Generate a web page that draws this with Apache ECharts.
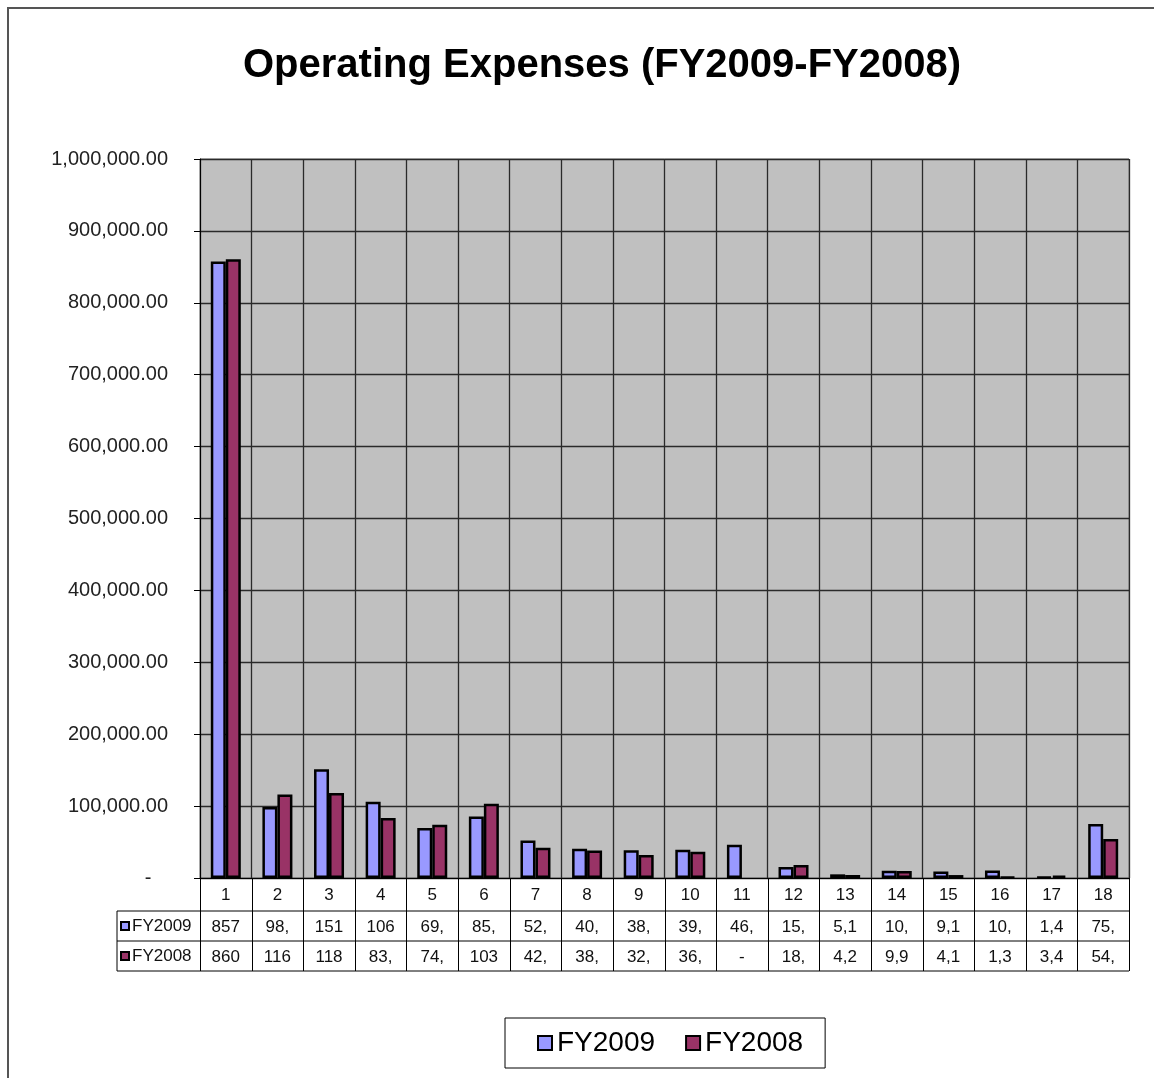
<!DOCTYPE html>
<html>
<head>
<meta charset="utf-8">
<title>Operating Expenses</title>
<script src="https://cdn.jsdelivr.net/npm/echarts@6/dist/echarts.min.js"></script>
<style>
  html, body { margin: 0; padding: 0; background: #fff; }
  #main { width: 1154px; height: 1078px; }
</style>
</head>
<body>
<div id="main"></div>
<script>
// categories 1..18
var categories = ['1', '2', '3', '4', '5', '6', '7', '8', '9', '10', '11', '12', '13', '14', '15', '16', '17', '18'];
var seriesNames = ['FY2009', 'FY2008'];
var fy2009 = [857300, 98600, 151400, 106200, 69500, 85400, 52300, 40600, 38500, 39400, 46200, 15300, 5100, 10200, 9100, 10300, 1400, 75200];
var fy2008 = [860400, 116300, 118200, 83400, 74100, 103200, 42100, 38200, 32100, 36400, 0, 18200, 4200, 9900, 4100, 1300, 3400, 54300];
var seriesColors = ['#9999ff', '#993366'];

var FONT = 'Liberation Sans, Arial, sans-serif';
var gridLeft = 200, gridTop = 159, gridWidth = 929, gridHeight = 719;
var rowH = [33, 30, 30]; // header row, FY2009 row, FY2008 row
var labelCellLeft = 117;

// table cells only have room for 3 characters (like excel truncation)
function cellText(v) {
    if (!v) return '-';
    return v.toLocaleString('en-US', { minimumFractionDigits: 2, maximumFractionDigits: 2 }).slice(0, 3);
}
// empty values draw no bar
function barData(arr) {
    return arr.map(function (v) { return v ? v : '-'; });
}

var chart = echarts.init(document.getElementById('main'), null, { renderer: 'canvas' });

var option = {
    animation: false,
    backgroundColor: '#ffffff',
    title: {
        text: 'Operating Expenses (FY2009-FY2008)',
        left: 238,
        top: 41,
        textStyle: { fontFamily: FONT, fontSize: 40, fontWeight: 'bold', color: '#000' }
    },
    legend: {
        data: seriesNames,
        left: 505,
        top: 1018,
        padding: [11, 22, 11, 32],
        borderColor: '#000',
        borderWidth: 1,
        itemWidth: 14,
        itemHeight: 14,
        itemGap: 30,
        icon: 'rect',
        textStyle: { fontFamily: FONT, fontSize: 28, color: '#000' }
    },
    grid: {
        left: gridLeft,
        top: gridTop,
        width: gridWidth,
        height: gridHeight,
        show: true,
        backgroundColor: '#c0c0c0',
        borderColor: '#808080',
        borderWidth: 1
    },
    xAxis: {
        type: 'category',
        data: categories,
        boundaryGap: true,
        axisLine: { lineStyle: { color: '#000', width: 1 } },
        axisTick: { show: false },
        axisLabel: { show: false },
        splitLine: { show: true, interval: 0, lineStyle: { color: '#2a2a2a', width: 1.3 } }
    },
    yAxis: {
        type: 'value',
        min: 0,
        max: 1000000,
        interval: 100000,
        axisLine: { show: true, lineStyle: { color: '#000', width: 1 } },
        axisTick: { show: true, length: 6, lineStyle: { color: '#000' } },
        axisLabel: {
            margin: 32,
            fontFamily: FONT,
            fontSize: 20,
            color: '#222',
            formatter: function (v) {
                if (v === 0) return '-   ';
                return v.toLocaleString('en-US', { minimumFractionDigits: 2, maximumFractionDigits: 2 });
            }
        },
        splitLine: { show: true, lineStyle: { color: '#2a2a2a', width: 1.3 } }
    },
    series: [
        {
            name: seriesNames[0],
            type: 'bar',
            data: barData(fy2009),
            barWidth: 15,
            barGap: '0%',
            itemStyle: { color: seriesColors[0], borderColor: '#000', borderWidth: 2.5 }
        },
        {
            name: seriesNames[1],
            type: 'bar',
            data: barData(fy2008),
            barWidth: 15,
            barGap: '0%',
            itemStyle: { color: seriesColors[1], borderColor: '#000', borderWidth: 2.5 }
        }
    ]
};

chart.setOption(option);

// data table under the plot, aligned with the category axis
function buildTable() {
    var els = [];
    var n = categories.length;
    var cellW = gridWidth / n;
    var y0 = gridTop + gridHeight;
    var y1 = y0 + rowH[0];
    var y2 = y1 + rowH[1];
    var y3 = y2 + rowH[2];
    var right = gridLeft + gridWidth;
    var lineStyle = { stroke: '#000', lineWidth: 1 };
    var font = '17px ' + FONT;

    // outer frame of chart area
    els.push({ type: 'rect', shape: { x: 8, y: 8, width: 1160, height: 1090 }, style: { fill: null, stroke: '#555', lineWidth: 2 }, silent: true });

    // horizontal lines
    els.push({ type: 'line', shape: { x1: labelCellLeft, y1: y1, x2: right, y2: y1 }, style: lineStyle });
    els.push({ type: 'line', shape: { x1: labelCellLeft, y1: y2, x2: right, y2: y2 }, style: lineStyle });
    els.push({ type: 'line', shape: { x1: labelCellLeft, y1: y3, x2: right, y2: y3 }, style: lineStyle });
    // vertical lines
    els.push({ type: 'line', shape: { x1: labelCellLeft, y1: y1, x2: labelCellLeft, y2: y3 }, style: lineStyle });
    for (var i = 0; i <= n; i++) {
        var x = Math.round(gridLeft + i * cellW) + 0.5;
        els.push({ type: 'line', shape: { x1: x, y1: y0, x2: x, y2: y3 }, style: lineStyle });
    }

    var rows = [fy2009, fy2008];
    for (var c = 0; c < n; c++) {
        var cx = chart.convertToPixel({ xAxisIndex: 0 }, categories[c]);
        els.push({ type: 'text', x: cx, y: (y0 + y1) / 2 + 1, style: { text: categories[c], align: 'center', verticalAlign: 'middle', font: font, fill: '#111' } });
        for (var r = 0; r < rows.length; r++) {
            var yy = r === 0 ? (y1 + y2) / 2 + 1 : (y2 + y3) / 2 + 1;
            els.push({ type: 'text', x: cx, y: yy, style: { text: cellText(rows[r][c]), align: 'center', verticalAlign: 'middle', font: font, fill: '#111' } });
        }
    }

    // row labels with legend keys
    for (var s = 0; s < seriesNames.length; s++) {
        var ty = s === 0 ? (y1 + y2) / 2 : (y2 + y3) / 2;
        els.push({ type: 'rect', shape: { x: labelCellLeft + 4, y: ty - 4, width: 8, height: 8 }, style: { fill: seriesColors[s], stroke: '#000', lineWidth: 2 } });
        els.push({ type: 'text', x: labelCellLeft + 15, y: ty, style: { text: seriesNames[s], align: 'left', verticalAlign: 'middle', font: font, fill: '#111' } });
    }
    return els;
}

chart.setOption({ graphic: { elements: buildTable() } });
</script>
</body>
</html>
